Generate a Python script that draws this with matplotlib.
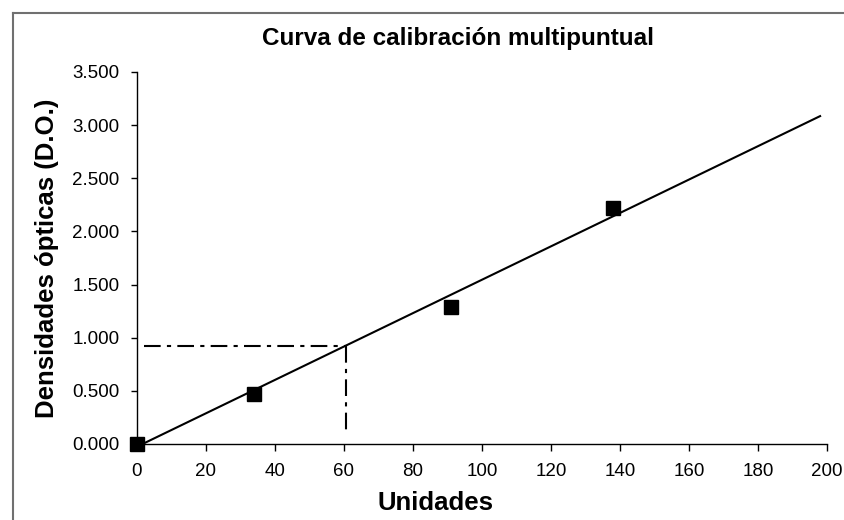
import matplotlib
matplotlib.use("Agg")
import matplotlib.pyplot as plt
from matplotlib.lines import Line2D
from matplotlib.ticker import FuncFormatter, MultipleLocator

plt.rcParams['font.family'] = ['Liberation Sans', 'DejaVu Sans']

# data
units = [0, 34, 91, 138]
density = [0.000, 0.468, 1.29, 2.217]
fit_x = [1.6, 198]
fit_y = [0.0, 3.085]
sample_x = 60.5
sample_y = 0.925
guide_start_x = 2
guide_end_y = 0.1

fig = plt.figure(figsize=(8.44, 5.2), dpi=100)
ax = fig.add_axes([137/844, 1-444/520, (827-137)/844, (444-72)/520])

ax.plot(fit_x, fit_y, color='black', lw=1.5, zorder=2)
ax.plot(units, density, linestyle='none', marker='s', markersize=10,
        color='black', zorder=3, clip_on=False)
ax.plot([guide_start_x, sample_x], [sample_y, sample_y], color='black',
        lw=1.5, linestyle=(0, (8, 3, 2, 3)), zorder=1)
ax.plot([sample_x, sample_x], [sample_y, guide_end_y], color='black',
        lw=1.5, linestyle=(0, (8, 3, 2, 3)), zorder=1)

ax.set_xlim(0, 200)
ax.set_ylim(0, 3.5)
ax.xaxis.set_major_locator(MultipleLocator(20))
ax.yaxis.set_major_locator(MultipleLocator(0.5))
ax.yaxis.set_major_formatter(FuncFormatter(lambda v, p: f"{v:.3f}"))
for s in ['top', 'right']:
    ax.spines[s].set_visible(False)
for s in ['left', 'bottom']:
    ax.spines[s].set_linewidth(1.0)
ax.tick_params(axis='x', direction='out', length=5, width=1, labelsize=13.5, pad=9)
ax.tick_params(axis='y', direction='out', length=4.5, width=1, labelsize=13.5, pad=8)

ax.set_xlabel('Unidades', fontsize=18.5, fontweight='bold', va='center')
ax.set_ylabel('Densidades ópticas (D.O.)', fontsize=18.5, fontweight='bold', va='center')
ax.xaxis.set_label_coords(0.5 * (378 + 493) / 690 - 137/690, (444 - 503) / 372)
ax.yaxis.set_label_coords((47.5 - 137) / 690, 0.5 * ((444 - 100) + (444 - 417)) / 372)
fig.text(0.5 * (261 + 655) / 844, 1 - 38/520, 'Curva de calibración multipuntual',
         fontsize=17.5, fontweight='bold', ha='center', va='center')

# figure border (left and top visible)
bx = 13/844
by = 1 - 13/520
fig.add_artist(Line2D([bx, bx], [0, by], transform=fig.transFigure, color='#707070', lw=1.5))
fig.add_artist(Line2D([bx, 1], [by, by], transform=fig.transFigure, color='#707070', lw=1.5))

fig.savefig('out.png', dpi=100)
